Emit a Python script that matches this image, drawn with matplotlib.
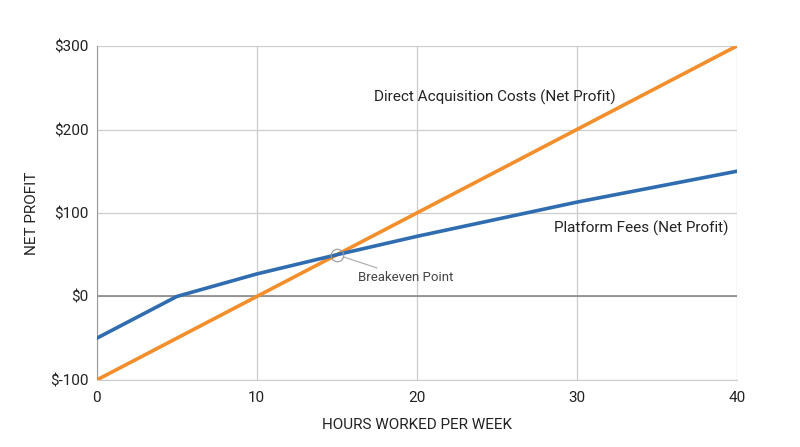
import matplotlib.pyplot as plt

plt.rcParams['font.family'] = ['Roboto', 'DejaVu Sans']

# data
hours_platform = [0, 5, 10, 15, 20, 30, 40]
profit_platform = [-50, 0, 27, 50, 72, 113, 150]
hours_direct = [0, 40]
profit_direct = [-100, 300]
breakeven = (15, 50)
x_ticks = [0, 10, 20, 30, 40]
y_ticks = [-100, 0, 100, 200, 300]
y_tick_labels = ['$-100', '$0', '$100', '$200', '$300']

blue = '#2f6db0'
orange = '#f28e2b'
grid_col = '#cccccc'
text_col = '#222222'

fig = plt.figure(figsize=(8, 4.47), dpi=100)
ax = fig.add_axes([0.121, 0.150, 0.800, 0.747])

ax.set_xlim(0, 40)
ax.set_ylim(-100, 300)
ax.set_xticks(x_ticks)
ax.set_yticks(y_ticks)
ax.set_yticklabels(y_tick_labels)
ax.tick_params(length=0, labelsize=11, colors=text_col)
ax.tick_params(axis='x', pad=8)
ax.tick_params(axis='y', pad=6)
ax.grid(True, color=grid_col, linewidth=0.9)
ax.set_axisbelow(True)
for s in ['top', 'right']:
    ax.spines[s].set_visible(False)
ax.spines['left'].set_color('#999999')
ax.spines['bottom'].set_color(grid_col)
ax.axhline(0, color='#888888', linewidth=1.2, zorder=1)

ax.plot(hours_direct, profit_direct, color=orange, linewidth=2.6, zorder=3)
ax.plot(hours_platform, profit_platform, color=blue, linewidth=2.6, zorder=3)

# breakeven marker and label
ax.plot(*breakeven, marker='o', markersize=9, markerfacecolor='none',
        markeredgecolor='#999999', markeredgewidth=0.8, zorder=4)
ax.annotate('Breakeven Point', xy=breakeven, xytext=(16.3, 23),
            fontsize=9.5, color='#444444', va='center', ha='left',
            arrowprops=dict(arrowstyle='-', color='#aaaaaa', lw=0.8,
                            shrinkA=0, shrinkB=5))

ax.text(24.9, 238, 'Direct Acquisition Costs (Net Profit)', fontsize=11,
        color=text_col, ha='center', va='center')
ax.text(28.6, 82, 'Platform Fees (Net Profit)', fontsize=11,
        color=text_col, ha='left', va='center')

ax.set_xlabel('HOURS WORKED PER WEEK', fontsize=11, color=text_col, labelpad=9)
ax.set_ylabel('NET PROFIT', fontsize=11, color=text_col, labelpad=8)

fig.savefig('out.png', dpi=100)
